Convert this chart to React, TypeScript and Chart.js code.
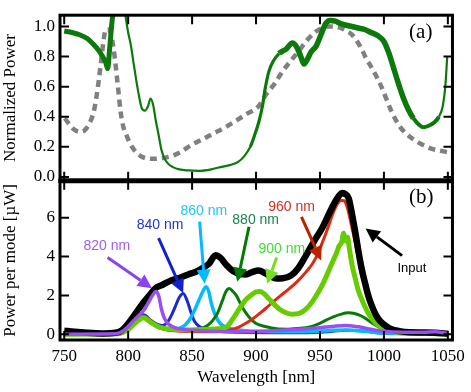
import React, { useEffect, useRef } from 'react';
import { Chart, registerables } from 'chart.js';
Chart.register(...registerables);

const SERIF = "'Liberation Serif', 'Times New Roman', serif";
const SANS = "'Liberation Sans', Arial, sans-serif";

// ---- axes ----
const wavelengthTicks = [750, 800, 850, 900, 950, 1000, 1050];
const normTicks = [0, 0.2, 0.4, 0.6, 0.8, 1.0];
const powerTicks = [0, 2, 4, 6];

// ---- panel (a) ----
const transNm = [750, 756, 762, 768, 773, 777, 780, 782.5, 784, 785.5, 787, 788.5, 792, 797, 800, 802, 804, 806, 808, 810.5, 813, 815.5, 817.5, 819.5, 821.5, 824, 826, 828, 831, 835, 840, 847, 855, 865, 872, 880, 886, 891, 895.5, 899, 902, 905, 907, 910, 913.5, 918, 923.5, 928.5, 932, 935, 937.5, 940, 943, 947, 951, 954.5, 958, 962, 966, 970, 975, 980, 985, 990, 995, 1000, 1004, 1007, 1011, 1015, 1019, 1023, 1027, 1031, 1035, 1039, 1043, 1046, 1048, 1049.5];
const transVal = [0.97, 0.96, 0.945, 0.92, 0.88, 0.84, 0.8, 0.76, 0.72, 0.85, 1.0, 1.12, null, 1.12, 0.96, 0.88, 0.77, 0.66, 0.56, 0.46, 0.44, 0.47, 0.52, 0.48, 0.38, 0.27, 0.18, 0.13, 0.09, 0.065, 0.05, 0.043, 0.04, 0.05, 0.065, 0.08, 0.1, 0.14, 0.2, 0.28, 0.36, 0.47, 0.58, 0.7, 0.77, 0.82, 0.85, 0.89, 0.86, 0.8, 0.75, 0.78, 0.83, 0.87, 0.95, 1.02, 1.04, 1.035, 1.02, 1.01, 1.0, 0.99, 0.98, 0.96, 0.94, 0.9, 0.82, 0.74, 0.63, 0.53, 0.45, 0.39, 0.35, 0.33, 0.34, 0.36, 0.4, 0.47, 0.6, 0.8];

const filterNm = [750.5, 753, 757, 762, 766, 770, 773, 775, 777, 779, 781, 782.5, 784.5, 786.5, 788.5, 790.5, 792.5, 794, 796, 798, 803, 809.5, 818.5, 830, 840, 849, 858, 867, 876, 885, 893, 902, 908, 914.6, 919.8, 926, 933.8, 939, 945.4, 951.8, 956, 960.8, 966, 971, 975, 981.3, 986, 991.5, 998, 1005.7, 1012, 1018.5, 1027.5, 1036.5, 1043, 1050];
const filterVal = [0.39, 0.36, 0.32, 0.3, 0.31, 0.36, 0.43, 0.52, 0.64, 0.78, 0.92, 0.98, 0.98, 0.95, 0.86, 0.72, 0.56, 0.44, 0.34, 0.29, 0.2, 0.14, 0.12, 0.13, 0.16, 0.21, 0.25, 0.29, 0.33, 0.377, 0.42, 0.47, 0.55, 0.62, 0.69, 0.76, 0.84, 0.9, 0.957, 0.99, 1.0, 1.0, 0.99, 0.97, 0.946, 0.87, 0.79, 0.71, 0.6, 0.44, 0.34, 0.28, 0.226, 0.19, 0.175, 0.165];

// ---- panel (b) ----
const inputNm = [750, 758, 768, 780, 790, 795, 800, 805, 811, 816, 821, 827, 834, 841, 847, 853, 858, 863, 868.5, 872, 877, 882, 887.5, 892, 897, 902, 907, 911, 916, 921, 927.5, 933, 939, 945, 951.5, 957, 962, 965, 967.5, 970, 972.5, 975, 977.5, 980, 982.5, 985, 987.5, 990, 995, 1000, 1006, 1012, 1020, 1030, 1040, 1050];
const inputVal = [0.18, 0.12, 0.07, 0.04, 0.07, 0.2, 0.55, 1.0, 1.55, 1.95, 2.35, 2.55, 2.78, 2.92, 3.08, 3.22, 3.4, 3.62, 4.07, 3.95, 3.55, 3.25, 3.1, 3.08, 3.2, 3.28, 3.15, 3.0, 2.87, 2.88, 3.03, 3.4, 4.05, 4.75, 5.45, 6.2, 6.85, 7.15, 7.28, 7.22, 7.0, 6.2, 5.3, 4.3, 3.4, 2.7, 2.05, 1.55, 0.85, 0.5, 0.25, 0.16, 0.1, 0.09, 0.08, 0.02];

const m960Nm = [750, 790, 797, 803, 808, 812, 816, 821, 828, 838, 850, 862, 872, 880, 887, 893, 898, 903, 908, 913, 919, 926, 932, 939, 944, 948, 952, 956, 960, 963.5, 966.5, 969, 971.5, 974, 977, 980, 983, 986, 989, 993, 997, 1002, 1008, 1016, 1030, 1050];
const m960Val = [0, 0.02, 0.15, 0.5, 0.8, 0.92, 0.8, 0.45, 0.25, 0.16, 0.12, 0.12, 0.15, 0.22, 0.38, 0.6, 0.82, 1.08, 1.35, 1.65, 1.98, 2.35, 2.7, 3.2, 3.62, 4.1, 4.75, 5.45, 6.2, 6.7, 6.9, 6.88, 6.5, 5.8, 4.9, 3.95, 3.1, 2.4, 1.8, 1.2, 0.78, 0.44, 0.22, 0.1, 0.05, 0.02];

const m900Nm = [750, 792, 800, 806, 812, 818, 825, 835, 848, 860, 868, 873, 877.5, 882, 887.5, 892, 896.5, 900, 903, 906, 909.5, 914, 918.5, 923, 928.5, 934, 939, 944, 949, 953, 957, 960, 963, 965, 967, 968.5, 970, 971.5, 973, 975, 977.5, 980, 984, 988, 993, 998, 1004, 1010, 1020, 1035, 1050];
const m900Val = [0, 0.02, 0.25, 0.6, 0.85, 0.6, 0.35, 0.25, 0.22, 0.24, 0.27, 0.3, 0.4, 0.8, 1.37, 1.78, 2.03, 2.18, 2.2, 2.1, 1.87, 1.55, 1.29, 1.12, 1.03, 1.08, 1.29, 1.68, 2.2, 2.7, 3.3, 3.75, 4.2, 4.55, 4.75, 5.2, 4.8, 5.0, 4.4, 3.6, 2.9, 2.25, 1.6, 1.05, 0.6, 0.35, 0.18, 0.1, 0.05, 0.03, 0.01];

const m880Nm = [750, 792, 800, 806, 812, 818, 825, 835, 848, 857, 862, 866, 870, 873.5, 876.5, 879, 882, 885, 888, 891, 895, 900, 908, 916, 925, 935, 942, 948, 954, 960, 966, 972, 977, 982, 987, 992, 997, 1002, 1010, 1020, 1050];
const m880Val = [0, 0.02, 0.25, 0.6, 0.85, 0.6, 0.35, 0.22, 0.22, 0.3, 0.45, 0.7, 1.1, 1.7, 2.2, 2.35, 2.2, 1.95, 1.55, 1.2, 0.85, 0.55, 0.38, 0.28, 0.26, 0.3, 0.37, 0.5, 0.7, 0.88, 1.02, 1.1, 1.07, 0.95, 0.75, 0.52, 0.33, 0.2, 0.1, 0.05, 0.01];

const m860Nm = [750, 792, 800, 806, 812, 818, 825, 833, 840, 845, 849, 852, 855, 858, 861, 863, 865, 868, 872, 877, 883, 892, 905, 930, 955, 970, 985, 1000, 1050];
const m860Val = [0, 0.02, 0.25, 0.6, 0.9, 0.6, 0.32, 0.25, 0.3, 0.5, 0.85, 1.25, 1.7, 2.15, 2.45, 2.2, 1.6, 1.0, 0.55, 0.35, 0.25, 0.18, 0.14, 0.12, 0.18, 0.22, 0.15, 0.06, 0.01];

const m840Nm = [750, 792, 800, 806, 812, 818, 823, 827, 831, 834, 837, 840, 843, 846, 849, 852, 856, 862, 870, 885, 910, 940, 960, 970, 985, 1000, 1050];
const m840Val = [0, 0.02, 0.25, 0.6, 1.0, 0.7, 0.5, 0.45, 0.65, 1.0, 1.45, 1.9, 2.1, 1.75, 1.15, 0.65, 0.38, 0.22, 0.15, 0.1, 0.08, 0.08, 0.15, 0.2, 0.15, 0.05, 0.01];

const m820Nm = [750, 790, 795, 800, 805, 809, 813, 816, 819, 822, 824, 826, 828.5, 831, 835, 842, 850, 865, 890, 920, 945, 960, 970, 980, 990, 1000, 1015, 1030, 1040, 1050];
const m820Val = [0, 0.02, 0.12, 0.4, 0.75, 1.0, 1.3, 1.65, 2.0, 2.2, 1.95, 1.3, 0.8, 0.55, 0.38, 0.25, 0.2, 0.15, 0.12, 0.2, 0.3, 0.4, 0.45, 0.38, 0.25, 0.15, 0.1, 0.1, 0.12, 0.04];

// ---- annotations (data units of panel b) ----
const noteText = ['820 nm', '840 nm', '860 nm', '880 nm', '900 nm', '960 nm', 'Input'];
const noteTextAt = [[783.3, 4.55], [824.9, 5.6], [859.2, 6.34], [899.7, 5.87], [920.1, 4.37], [927.8, 6.54], [1021.9, 3.37]];
const noteFrom = [[783.9, 3.95], [823.8, 4.95], [855.9, 5.8], [894.5, 5.54], [916.2, 3.95], [935.5, 6.05], [1014.2, 4.05]];
const noteTo = [[818.6, 2.37], [843.0, 2.12], [859.8, 2.6], [885.4, 2.7], [908.6, 2.6], [950.9, 3.8], [985.7, 5.45]];
const noteTextColor = ['#a060ee', '#2233cc', '#22c4ff', '#1a8050', '#44dd33', '#cc3322', '#000000'];
const noteArrowColor = ['#8a44ee', '#1122cc', '#00bbff', '#007a00', '#77dd22', '#bb2200', '#000000'];

const xy = (xs: number[], ys: (number | null)[]) => xs.map((x, i) => ({ x, y: ys[i] }));

function drawArrow(ctx: CanvasRenderingContext2D, x1: number, y1: number, x2: number, y2: number, color: string) {
  const ang = Math.atan2(y2 - y1, x2 - x1);
  const headLen = 14;
  const headW = 7;
  const bx = x2 - headLen * Math.cos(ang);
  const by = y2 - headLen * Math.sin(ang);
  ctx.strokeStyle = color;
  ctx.fillStyle = color;
  ctx.lineWidth = 3;
  ctx.lineCap = 'butt';
  ctx.beginPath();
  ctx.moveTo(x1, y1);
  ctx.lineTo(bx, by);
  ctx.stroke();
  ctx.beginPath();
  ctx.moveTo(x2, y2);
  ctx.lineTo(bx + headW * Math.sin(ang), by - headW * Math.cos(ang));
  ctx.lineTo(bx - headW * Math.sin(ang), by + headW * Math.cos(ang));
  ctx.closePath();
  ctx.fill();
}

const framePlugin = {
  id: 'frames',
  afterDatasetsDraw(chart: any) {
    const ctx: CanvasRenderingContext2D = chart.ctx;
    const x = chart.scales.x;
    const yT = chart.scales.yTop;
    const yB = chart.scales.yBot;
    const L = chart.chartArea.left;
    const R = chart.chartArea.right;
    ctx.save();
    // annotations
    for (let i = 0; i < noteText.length; i++) {
      drawArrow(ctx, x.getPixelForValue(noteFrom[i][0]), yB.getPixelForValue(noteFrom[i][1]),
        x.getPixelForValue(noteTo[i][0]), yB.getPixelForValue(noteTo[i][1]), noteArrowColor[i]);
      ctx.fillStyle = noteTextColor[i];
      ctx.font = (i === 6 ? '13px ' : '14px ') + SANS;
      ctx.textAlign = 'center';
      ctx.textBaseline = 'middle';
      ctx.fillText(noteText[i], x.getPixelForValue(noteTextAt[i][0]), yB.getPixelForValue(noteTextAt[i][1]));
    }
    // panel letters
    ctx.fillStyle = '#000';
    ctx.font = '21px ' + SERIF;
    ctx.textAlign = 'center';
    ctx.textBaseline = 'middle';
    ctx.fillText('(a)', x.getPixelForValue(1028.8), yT.getPixelForValue(0.963));
    ctx.fillText('(b)', x.getPixelForValue(1029.2), yB.getPixelForValue(7.07));
    // frames
    ctx.strokeStyle = '#000';
    ctx.lineWidth = 3;
    ctx.strokeRect(L, yT.top, R - L, yT.bottom - yT.top);
    ctx.strokeRect(L, yB.top, R - L, yB.bottom - yB.top);
    ctx.lineWidth = 5;
    ctx.beginPath();
    ctx.moveTo(L - 1.5, yT.bottom);
    ctx.lineTo(R + 1.5, yT.bottom);
    ctx.stroke();
    // inward ticks
    ctx.lineWidth = 2;
    const tl = 9;
    ctx.beginPath();
    for (const v of wavelengthTicks) {
      const px = x.getPixelForValue(v);
      for (const p of [yT, yB]) {
        ctx.moveTo(px, p.top);
        ctx.lineTo(px, p.top + tl);
        ctx.moveTo(px, p.bottom);
        ctx.lineTo(px, p.bottom - tl);
      }
    }
    for (const v of normTicks) {
      const py = yT.getPixelForValue(v);
      ctx.moveTo(L, py); ctx.lineTo(L + tl, py);
      ctx.moveTo(R, py); ctx.lineTo(R - tl, py);
    }
    for (const v of powerTicks) {
      const py = yB.getPixelForValue(v);
      ctx.moveTo(L, py); ctx.lineTo(L + tl, py);
      ctx.moveTo(R, py); ctx.lineTo(R - tl, py);
    }
    ctx.stroke();
    ctx.restore();
  },
};

export default function App() {
  const ref = useRef<HTMLCanvasElement>(null);
  useEffect(() => {
    if (!ref.current) return;
    const tickFont = { family: SERIF, size: 17 };
    const titleFont = { family: SERIF, size: 17 };
    const line = (data: any[], color: string, width: number, axis: string, order: number, extra: any = {}) => ({
      data, borderColor: color, backgroundColor: color, borderWidth: width, pointRadius: 0,
      cubicInterpolationMode: 'monotone', yAxisID: axis, order, spanGaps: false, fill: false, ...extra,
    });
    const chart = new Chart(ref.current, {
      type: 'line',
      data: {
        datasets: [
          line(xy(transNm, transVal), '#0b7a0b', 3, 'yTop', 0, {
            segment: {
              borderWidth: (c: any) => {
                const x0 = c.p0.parsed.x;
                return x0 < 790 ? 5 : x0 < 893 ? 2.2 : x0 < 915 ? 3.2 : x0 < 1022 ? 5.5 : x0 < 1040 ? 4 : 2.2;
              },
            },
          }),
          line(xy(filterNm, filterVal), '#808080', 4.5, 'yTop', 1, { borderDash: [7, 5], borderCapStyle: 'butt' }),
          line(xy(m820Nm, m820Val), '#9a4ff0', 3.5, 'yBot', 2),
          line(xy(inputNm, inputVal), '#000000', 6.5, 'yBot', 3),
          line(xy(m900Nm, m900Val), '#66cc00', 5, 'yBot', 4),
          line(xy(m960Nm, m960Val), '#e02a10', 3, 'yBot', 5),
          line(xy(m880Nm, m880Val), '#077a07', 3, 'yBot', 6),
          line(xy(m860Nm, m860Val), '#00bbff', 3.5, 'yBot', 7),
          line(xy(m840Nm, m840Val), '#1a2ad0', 3, 'yBot', 8),
        ],
      },
      options: {
        animation: false,
        responsive: false,
        devicePixelRatio: 1,
        layout: { padding: { left: 0, right: 12, top: 5, bottom: 0 } },
        plugins: { legend: { display: false }, tooltip: { enabled: false } },
        scales: {
          x: {
            type: 'linear', position: 'bottom', min: 746.7, max: 1053.6,
            afterBuildTicks: (s: any) => { s.ticks = wavelengthTicks.map((v) => ({ value: v })); },
            afterFit: (s: any) => { s.height = 52; },
            grid: { display: false, drawTicks: false },
            border: { display: false },
            ticks: { font: tickFont, color: '#000', padding: 6, maxRotation: 0, autoSkip: false, callback: (v: any) => String(v) },
            title: { display: true, text: 'Wavelength [nm]', font: titleFont, color: '#000', padding: { top: 0, bottom: 4 } },
          },
          yBot: {
            type: 'linear', position: 'left', stack: 'panels', stackWeight: 164.2, min: -0.3, max: 7.91,
            afterBuildTicks: (s: any) => { s.ticks = powerTicks.map((v) => ({ value: v })); },
            afterFit: (s: any) => { s.width = 60; },
            grid: { display: false, drawTicks: false },
            border: { display: false },
            ticks: { font: tickFont, color: '#000', padding: 5, autoSkip: false, callback: (v: any) => String(v) },
            title: { display: true, text: 'Power per mode [\u00b5W]', font: titleFont, color: '#000', padding: { top: 0, bottom: 0 } },
          },
          yTop: {
            type: 'linear', position: 'left', stack: 'panels', stackWeight: 170.8, min: -0.026, max: 1.075,
            afterBuildTicks: (s: any) => { s.ticks = normTicks.map((v) => ({ value: v })); },
            afterFit: (s: any) => { s.width = 60; },
            grid: { display: false, drawTicks: false },
            border: { display: false },
            ticks: { font: tickFont, color: '#000', padding: 5, autoSkip: false, callback: (v: any) => Number(v).toFixed(1) },
            title: { display: true, text: 'Normalized Power', font: titleFont, color: '#000', padding: { top: 0, bottom: 0 } },
          },
        },
      } as any,
      plugins: [framePlugin],
    });
    return () => chart.destroy();
  }, []);
  return (
    <canvas ref={ref} width={471} height={392}
      style={{ position: 'fixed', left: 0, top: 0, width: 471, height: 392, background: '#fff' }} />
  );
}
